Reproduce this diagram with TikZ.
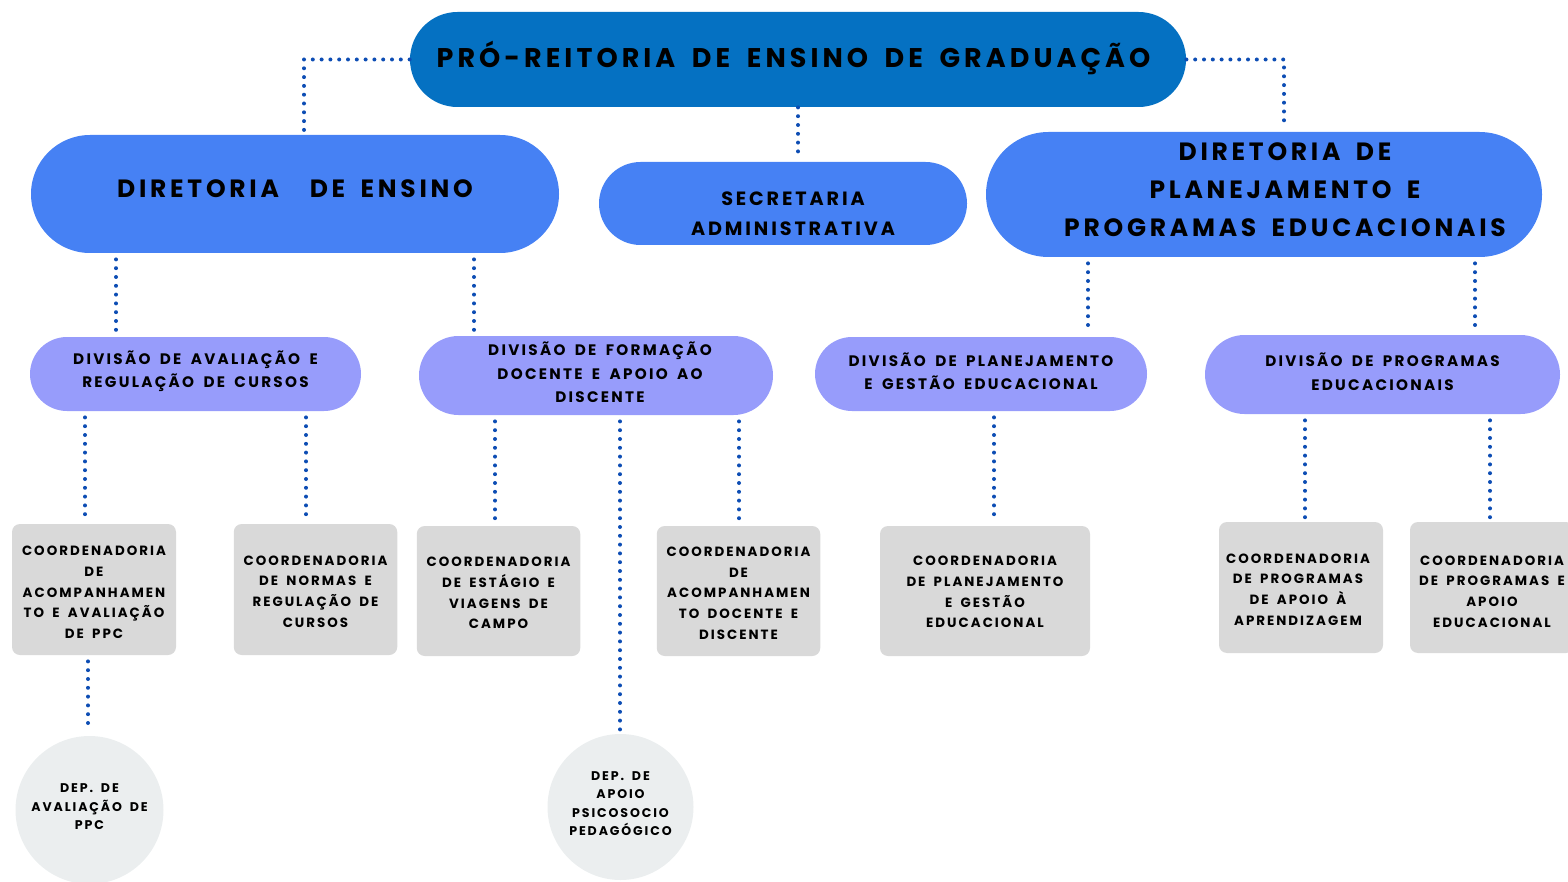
\documentclass[tikz,border=0pt]{standalone}
\usepackage{fontspec}
\setmainfont{Poppins}[LetterSpace=15,WordSpace=1.7]
\definecolor{cTitle}{HTML}{0571C2}
\definecolor{cDir}{HTML}{4681F4}
\definecolor{cDiv}{HTML}{979CFB}
\definecolor{cCoord}{HTML}{D9D9D9}
\definecolor{cDep}{HTML}{EBEEEF}
\definecolor{cLink}{HTML}{0D4DB4}
\tikzset{
  base/.style={inner sep=0pt, align=center, text=black},
  lab/.style={inner sep=0pt, align=center, text=black},
  ftitle/.style={font=\bfseries\fontsize{13.5}{17}\selectfont},
  fdir/.style={font=\bfseries\fontsize{12.5}{19}\selectfont},
  fsec/.style={font=\bfseries\fontsize{9.6}{15}\selectfont},
  fdiv/.style={font=\bfseries\fontsize{7.6}{11.75}\selectfont},
  fcoord/.style={font=\bfseries\fontsize{6.7}{10.35}\selectfont},
  fdep/.style={font=\bfseries\fontsize{6.3}{9.25}\selectfont},
  titlebox/.style={base, fill=cTitle, rounded corners=23.75pt, minimum width=388pt, minimum height=47.5pt},
  dirbox/.style={base, fill=cDir},
  secbox/.style={base, fill=cDir, rounded corners=20.75pt, minimum width=184pt, minimum height=41.5pt},
  divbox/.style={base, fill=cDiv, minimum height=37pt, rounded corners=18.5pt},
  coordbox/.style={base, fill=cCoord, rounded corners=4pt, minimum height=65.5pt, minimum width=81.75pt},
  depcirc/.style={base, circle, fill=cDep},
  link/.style={draw=cLink, line width=2pt, line cap=round, dash pattern=on 0pt off 4.4pt,
    shorten <=3pt, shorten >=2pt}
}
\begin{document}
\begin{tikzpicture}[x=0.5pt,y=-0.5pt]
\useasboundingbox (0,0) rectangle (1568,882);
\clip (0,0) rectangle (1568,882);
% top
\node[titlebox, label={[lab,ftitle,xshift=-2.25pt,yshift=1pt]center:{PRÓ-REITORIA DE ENSINO DE GRADUAÇÃO}}] (title) at (798,59.5) {};
% level 2
\node[dirbox, minimum width=264pt, minimum height=59pt, rounded corners=29.5pt,
  label={[lab,fdir,yshift=2.5pt]center:{DIRETORIA\ \ DE ENSINO}}] (de) at (295,194) {};
\node[secbox, label={[lab,fsec,xshift=5pt,yshift=-5pt]center:{SECRETARIA\\ADMINISTRATIVA}}] (sec) at (783,203.5) {};
\node[dirbox, minimum width=278pt, minimum height=62.5pt, rounded corners=31.25pt,
  label={[lab,fdir,xshift=10.5pt,yshift=2.25pt]center:{DIRETORIA DE\\PLANEJAMENTO E\\PROGRAMAS EDUCACIONAIS}}] (dplan) at (1264,194.5) {};
% level 3
\node[divbox, minimum width=165.5pt,
  label={[lab,fdiv,yshift=1.5pt]center:{DIVISÃO DE AVALIAÇÃO E\\REGULAÇÃO DE CURSOS}}] (dav) at (195.5,374) {};
\node[divbox, minimum width=177pt, minimum height=39.5pt, rounded corners=19.75pt,
  label={[lab,fdiv,xshift=2pt,yshift=1.5pt]center:{DIVISÃO DE FORMAÇÃO\\DOCENTE E APOIO AO\\DISCENTE}}] (dform) at (596,375.5) {};
\node[divbox, minimum width=166pt,
  label={[lab,fdiv,yshift=1.5pt]center:{DIVISÃO DE PLANEJAMENTO\\E GESTÃO EDUCACIONAL}}] (dpg) at (981,374) {};
\node[divbox, minimum width=177.5pt, minimum height=39.5pt, rounded corners=19.75pt,
  label={[lab,fdiv,yshift=1.5pt]center:{DIVISÃO DE PROGRAMAS\\EDUCACIONAIS}}] (dprog) at (1382.5,374.5) {};
% level 4
\node[coordbox, minimum width=82pt,
  label={[lab,fcoord,yshift=-1.5pt]center:{COORDENADORIA\\DE\\ACOMPANHAMEN\\TO E AVALIAÇÃO\\DE PPC}}] (c1) at (94,589.5) {};
\node[coordbox,
  label={[lab,fcoord,yshift=-1pt]center:{COORDENADORIA\\DE NORMAS E\\REGULAÇÃO DE\\CURSOS}}] (c2) at (315.5,589.5) {};
\node[coordbox, minimum height=65pt,
  label={[lab,fcoord,yshift=-1pt]center:{COORDENADORIA\\DE ESTÁGIO E\\VIAGENS DE\\CAMPO}}] (c3) at (498.5,591) {};
\node[coordbox, minimum height=65pt,
  label={[lab,fcoord,yshift=-1pt]center:{COORDENADORIA\\DE\\ACOMPANHAMEN\\TO DOCENTE E\\DISCENTE}}] (c4) at (738.5,591) {};
\node[coordbox, minimum width=105pt, minimum height=65pt,
  label={[lab,fcoord,yshift=-0.5pt]center:{COORDENADORIA\\DE PLANEJAMENTO\\E GESTÃO\\EDUCACIONAL}}] (c5) at (985,591) {};
\node[coordbox, minimum width=82pt,
  label={[lab,fcoord,xshift=-1.5pt,yshift=-1pt]center:{COORDENADORIA\\DE PROGRAMAS\\DE APOIO À\\APRENDIZAGEM}}] (c6) at (1301,587.5) {};
\node[coordbox, minimum width=82pt,
  label={[lab,fcoord,yshift=-2pt]center:{COORDENADORIA\\DE PROGRAMAS E\\APOIO\\EDUCACIONAL}}] (c7) at (1492,587.5) {};
% level 5
\node[depcirc, minimum size=74pt,
  label={[lab,fdep,yshift=1.5pt]center:{DEP. DE\\AVALIAÇÃO DE\\PPC}}] (dep1) at (89.5,810) {};
\node[depcirc, minimum size=73pt,
  label={[lab,fdep,yshift=1.75pt]center:{DEP. DE\\APOIO\\PSICOSOCIO\\PEDAGÓGICO}}] (dep2) at (620.5,807) {};
% connectors
\draw[link, shorten <=0pt] (title.west) -| ([xshift=4.5pt]de.north);
\draw[link, shorten <=0pt] (title.east) -| ([xshift=10pt]dplan.north);
\draw[link, shorten <=0pt] (title.south) -- (title.south |- sec.north);
\draw[link] (de.south -| 116,0) -- (dav.north -| 116,0);
\draw[link] (de.south -| 474,0) -- (dform.north -| 474,0);
\draw[link] (dplan.south -| 1088,0) -- (dpg.north -| 1088,0);
\draw[link] (dplan.south -| 1475,0) -- (dprog.north -| 1475,0);
\draw[link] (dav.south -| 85,0) -- (c1.north -| 85,0);
\draw[link] (dav.south -| 306,0) -- (c2.north -| 306,0);
\draw[link] (dform.south -| 495,0) -- (c3.north -| 495,0);
\draw[link] (dform.south -| 620,0) -- (dep2.north -| 620,0);
\draw[link] (dform.south -| 739,0) -- (c4.north -| 739,0);
\draw[link] (dpg.south -| 994,0) -- (c5.north -| 994,0);
\draw[link] (dprog.south -| 1305,0) -- (c6.north -| 1305,0);
\draw[link] (dprog.south -| 1490,0) -- (c7.north -| 1490,0);
\draw[link] (c1.south -| 88,0) -- (dep1.north -| 88,0);
\end{tikzpicture}
\end{document}
